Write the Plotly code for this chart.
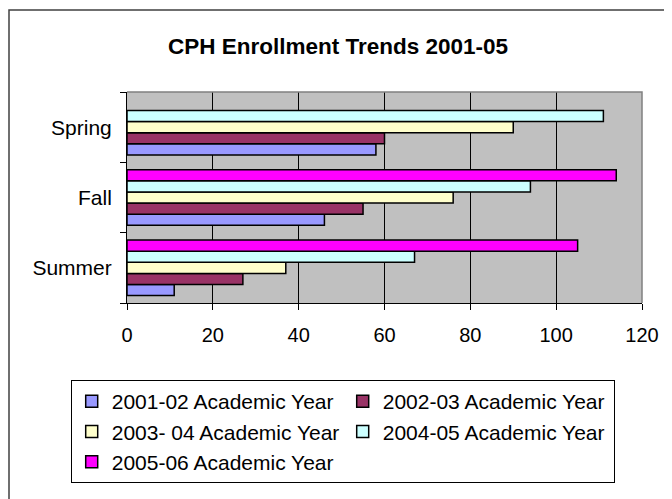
import plotly.graph_objects as go

categories = ["Summer", "Fall", "Spring"]
series_names = [
    "2001-02 Academic Year",
    "2002-03 Academic Year",
    "2003- 04 Academic Year",
    "2004-05 Academic Year",
    "2005-06 Academic Year",
]
values_2001_02 = [11, 46, 58]
values_2002_03 = [27, 55, 60]
values_2003_04 = [37, 76, 90]
values_2004_05 = [67, 94, 111]
values_2005_06 = [105, 114, None]
colors = ["#9999FF", "#993366", "#FFFFCC", "#CCFFFF", "#FF00FF"]
x_ticks = [0, 20, 40, 60, 80, 100, 120]

all_values = [values_2001_02, values_2002_03, values_2003_04, values_2004_05, values_2005_06]

FONT = "Liberation Sans, Arial, sans-serif"
# page body adds an 8px margin, so the figure is sized to fit the window
W, H = 664, 491
L, R, T, B = 119, 30, 84, 196
PW, PH = W - L - R, H - T - B


def px_x(v):
    return (v - L) / PW


def px_y(v):
    return (H - B - v) / PH


fig = go.Figure()
for name, vals, col in zip(series_names, all_values, colors):
    fig.add_trace(go.Bar(
        y=categories, x=vals, name=name, orientation="h",
        marker=dict(color=col, line=dict(color="black", width=1.5)),
    ))

fig.update_layout(
    width=W, height=H,
    margin=dict(l=L, r=R, t=T, b=B, autoexpand=False),
    paper_bgcolor="white",
    plot_bgcolor="#C0C0C0",
    barmode="group",
    bargap=0.21,
    bargroupgap=0,
    font=dict(family=FONT, color="black", size=20),
    title=dict(
        text="<b>CPH Enrollment Trends 2001-05</b>",
        x=330 / W, xref="container", xanchor="center",
        y=1 - 38 / H, yref="container", yanchor="middle",
        font=dict(family=FONT, size=22.5, color="black"),
    ),
    xaxis=dict(
        range=[0, 120], tickvals=x_ticks, ticktext=[str(v) for v in x_ticks],
        showgrid=True, gridcolor="black", gridwidth=1,
        showline=True, linecolor="black", linewidth=1,
        ticks="outside", ticklen=6, tickcolor="black",
        zeroline=False, ticklabelstandoff=8,
        tickfont=dict(size=20),
        fixedrange=True,
    ),
    yaxis=dict(
        categoryorder="array", categoryarray=categories,
        showgrid=False,
        showline=True, linecolor="black", linewidth=1,
        ticks="outside", ticklen=6, tickcolor="black", tickson="boundaries",
        ticklabelstandoff=10,
        tickfont=dict(size=21),
        fixedrange=True,
    ),
    legend=dict(
        orientation="h",
        x=px_x(62.7), xanchor="left",
        y=px_y(372), yanchor="top",
        entrywidth=226, entrywidthmode="pixels",
        bordercolor="black", borderwidth=1,
        font=dict(size=21, family=FONT),
        traceorder="normal",
    ),
    showlegend=True,
    shapes=[
        dict(type="path", xref="paper", yref="paper",
             path="M 0,1 L 1,1 L 1,0", line=dict(color="#808080", width=1.5), layer="above"),
        dict(type="rect", xref="paper", yref="paper",
             x0=px_x(1), x1=px_x(690),
             y0=px_y(520), y1=px_y(2),
             line=dict(color="#404040", width=1.5), fillcolor="rgba(0,0,0,0)", layer="below"),
    ],
)

fig.write_html("out.html")
